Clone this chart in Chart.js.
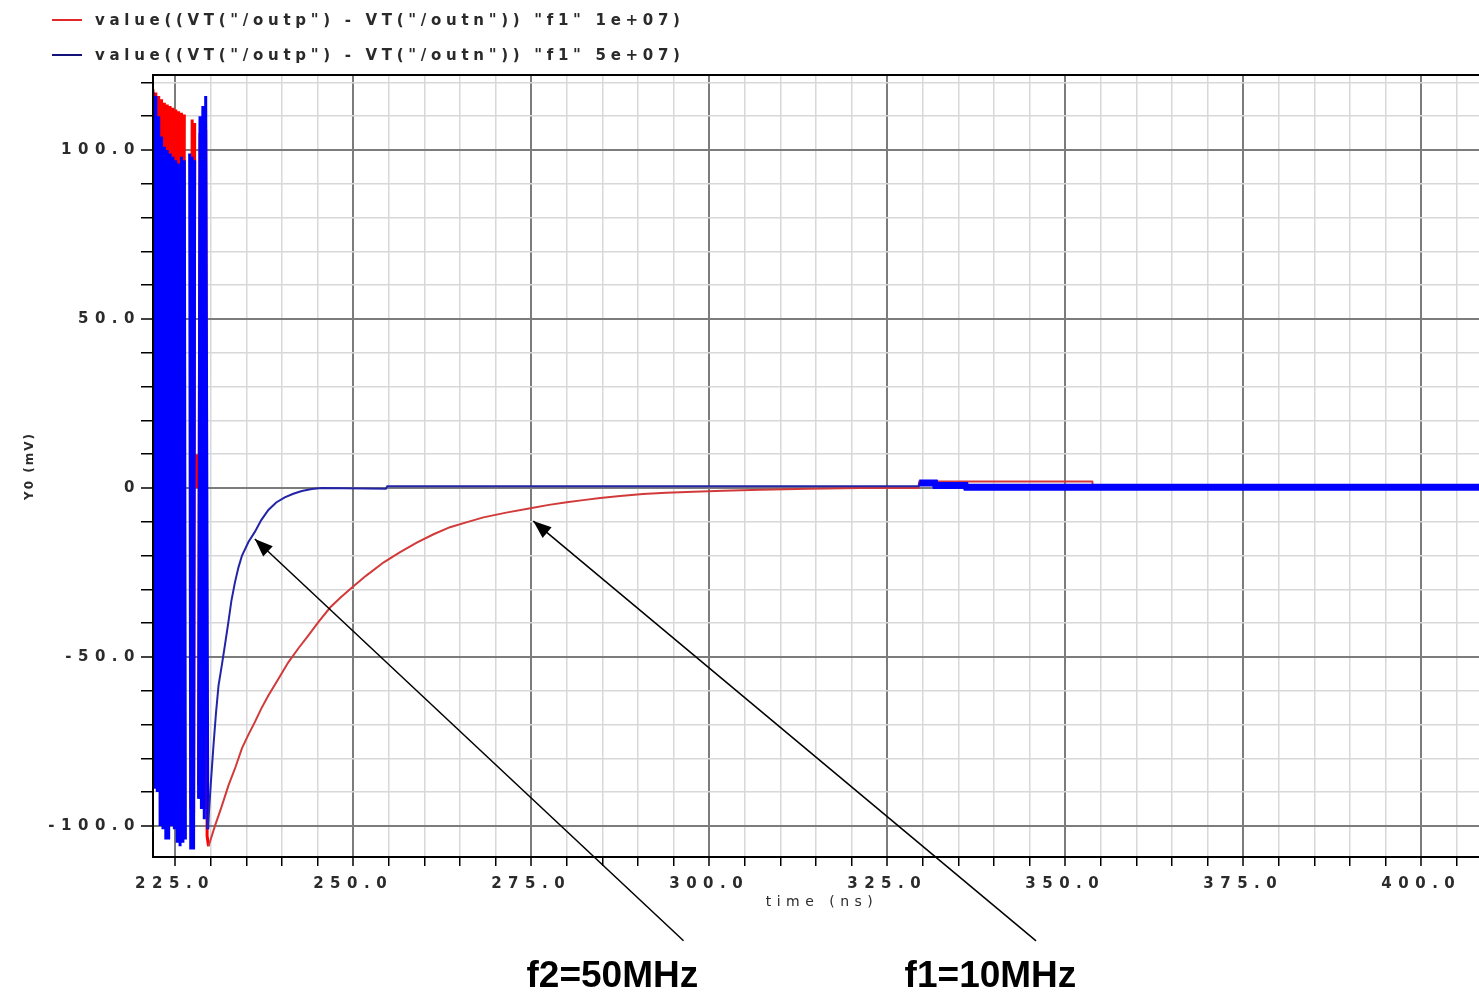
<!DOCTYPE html>
<html>
<head>
<meta charset="utf-8">
<title>VT(outp) - VT(outn) settling</title>
<script src="https://cdn.jsdelivr.net/npm/chart.js@4.4.0/dist/chart.umd.min.js"></script>
<style>
  html, body { margin: 0; padding: 0; background: #fff; }
  #wrap { position: relative; width: 1479px; height: 995px; }
  #legend {
    position: absolute; left: 52px; top: 2px;
    font: bold 15px "DejaVu Sans", sans-serif; letter-spacing: 4.7px; color: #2a2a2a;
  }
  #legend .item { height: 35px; display: flex; align-items: center; white-space: pre; }
  #legend .swatch { display: inline-block; width: 30px; height: 2px; margin-right: 13px; }
</style>
</head>
<body>
<div id="wrap">
  <canvas id="chart" width="1479" height="995"></canvas>
  <div id="legend"></div>
</div>
<script>
// === Series names ===
const f1Label = 'value((VT("/outp") - VT("/outn")) "f1" 1e+07)';
const f2Label = 'value((VT("/outp") - VT("/outn")) "f1" 5e+07)';

// === f1 = 10MHz (red), time in ns, value in mV ===
const f1Time = [
  221.9, 222.1, 222.3, 222.5, 222.7, 222.9, 223.1, 223.3, 223.5, 223.7, 223.9, 224.1,
  224.3, 224.5, 224.7, 224.9, 225.1, 225.3, 225.5, 225.7, 225.9, 226.1, 226.3,
  226.75, 227.2, 227.4, 227.6, 227.75, 227.9, 228.0, 228.05, 228.15,
  228.3, 228.5, 228.7, 228.9, 229.1, 229.3, 229.5,
  229.7, 230.6, 231.5, 232.5, 233.5, 234.4, 235.3, 236.2, 237.1, 238.1, 239.5, 240.9,
  242.3, 243.7, 245.2, 246.8, 248.2, 249.6, 251.8, 254.3, 256.6, 259.0, 261.3, 263.6,
  266.0, 268.3, 271.5, 274.9, 277.5, 280.0, 282.3, 284.7, 287.5, 290.7, 294.0, 297.8,
  302.0, 307.2, 314.0, 321.2, 329.4,
  329.5, 353.8, 353.9, 408.1
];
const f1Value = [
  118, -85, 117, -85, 116, -90, 115, -92, 114, -94, 113.5, -95,
  113, -92, 112.5, -94, 112, -96, 111.5, -95, 111, -96, 110.5,
  null, -95, 109, -96, 108, null, 10, 0, null,
  -88, 105, -92, 108, -95, 106, -103,
  -106, -100, -94.5, -88, -82.5, -77, -73, -69.3, -65.3, -61.4, -56.5, -51.6,
  -47.5, -43.7, -39.5, -35.3, -32.5, -29.9, -26, -22, -19, -16.1, -13.7, -11.6,
  -10.1, -8.7, -7.3, -6.0, -5.0, -4.2, -3.6, -3.0, -2.4, -1.8, -1.4, -1.1,
  -0.8, -0.5, -0.25, 0, 0,
  1.9, 1.9, 0.2, 0.2
];

// === f2 = 50MHz (blue) ===
const f2Time = [
  221.9, 222.1, 222.3, 222.5, 222.7, 222.9, 223.1, 223.3, 223.5, 223.7, 223.9, 224.1,
  224.3, 224.5, 224.7, 224.9, 225.1, 225.3, 225.5, 225.7, 225.9, 226.1, 226.3, 226.45,
  226.75, 227.05, 227.2, 227.4, 227.6, 227.75, 228.0,
  228.3, 228.5, 228.7, 228.9, 229.1, 229.3,
  229.6, 230.0, 230.4, 230.75, 231.1, 231.6, 232.0, 232.5, 232.9, 233.4, 233.9, 234.4,
  235.3, 236.2, 237.1, 238.1, 239.2, 240.4, 241.6, 242.8, 244.2, 245.6,
  254.6, 254.8, 329.4,
  329.5, 331.7, 331.8, 336.0, 336.1, 408.1
];
const f2Value = [
  117, -89, 116, -90, 110, -100, 104, -101, 101, -104, 100, -104,
  99, -100, 98, -101, 97, -105, 96, -106, 98, -105, 97, -104,
  null, 99, -107, 98, -107, 97, null,
  -92, 110, -95, 113, -98, 116,
  -101, -88, -76, -66.5, -58.5, -52, -46.5, -39.5, -33.5, -28, -23.5, -20,
  -16, -13, -9.5, -6.5, -4.3, -2.8, -1.7, -0.9, -0.3, 0,
  -0.2, 0.5, 0.5,
  1.5, 1.5, 0.7, 0.7, 0.2, 0.2
];

// === Axes ===
const xMajorTicks = [225, 250, 275, 300, 325, 350, 375, 400];
const yMajorTicks = [-100, -50, 0, 50, 100];
const xRange = [221.9, 408.1];
const yRange = [-109.2, 122.2];
const xTitle = "time (ns)";
const yTitle = "Y0 (mV)";

// === Arrows with notes ===
const notes = [
  { text: "f2=50MHz", tip: [236.2, -15.1], tail: [296.4, -134], at: [286.4, -147.6] },
  { text: "f1=10MHz", tip: [275.3, -9.8], tail: [345.9, -134], at: [339.5, -147.6] }
];

const toPoints = (xs, ys) => xs.map((x, i) => ({ x: x, y: ys[i] }));

const xTickValues = [];
for (let v = 225; v <= 405; v += 5) xTickValues.push(v);
const yTickValues = [];
for (let v = -100; v <= 120; v += 10) yTickValues.push(v);

// Legend (two rows like the simulator plot)
const legendEl = document.getElementById("legend");
[[f1Label, "#e02828"], [f2Label, "#12127a"]].forEach(([name, col]) => {
  const row = document.createElement("div");
  row.className = "item";
  row.innerHTML = `<span class="swatch" style="background:${col}"></span>`;
  row.appendChild(document.createTextNode(name));
  legendEl.appendChild(row);
});

// Top frame line, axis titles and the annotation arrows
const framePlugin = {
  id: "frameAndNotes",
  beforeDraw(chart) {
    chart.ctx.letterSpacing = "6.5px";
  },
  beforeDatasetsDraw(chart) {
    chart.ctx.letterSpacing = "0px";
  },
  afterDraw(chart) {
    const { ctx, chartArea, scales } = chart;
    ctx.save();
    ctx.letterSpacing = "0px";
    ctx.strokeStyle = "#000";
    ctx.lineWidth = 2;
    ctx.beginPath();
    ctx.moveTo(chartArea.left, chartArea.top);
    ctx.lineTo(chartArea.right, chartArea.top);
    ctx.stroke();

    // axis titles
    ctx.fillStyle = "#2b2b2b";
    ctx.textAlign = "center";
    ctx.textBaseline = "middle";
    ctx.font = '14px "DejaVu Sans", sans-serif';
    ctx.letterSpacing = "5.5px";
    ctx.fillText(xTitle, (chartArea.left + chartArea.right) / 2 + 6, scales.x.bottom - 93);
    ctx.save();
    ctx.translate(30, (chartArea.top + chartArea.bottom) / 2);
    ctx.rotate(-Math.PI / 2);
    ctx.font = 'bold 12px "DejaVu Sans", sans-serif';
    ctx.letterSpacing = "2px";
    ctx.fillText(yTitle, 0, 0);
    ctx.restore();
    ctx.letterSpacing = "0px";

    notes.forEach(n => {
      const tx = scales.x.getPixelForValue(n.tip[0]);
      const ty = scales.y.getPixelForValue(n.tip[1]);
      const sx = scales.x.getPixelForValue(n.tail[0]);
      const sy = scales.y.getPixelForValue(n.tail[1]);
      ctx.strokeStyle = "#000";
      ctx.lineWidth = 1.5;
      ctx.beginPath();
      ctx.moveTo(sx, sy);
      ctx.lineTo(tx, ty);
      ctx.stroke();
      const a = Math.atan2(ty - sy, tx - sx);
      const len = 18, half = 7;
      ctx.fillStyle = "#000";
      ctx.beginPath();
      ctx.moveTo(tx, ty);
      ctx.lineTo(tx - len * Math.cos(a) + half * Math.sin(a), ty - len * Math.sin(a) - half * Math.cos(a));
      ctx.lineTo(tx - len * Math.cos(a) - half * Math.sin(a), ty - len * Math.sin(a) + half * Math.cos(a));
      ctx.closePath();
      ctx.fill();

      ctx.font = 'bold 37px "Liberation Sans", Arial, sans-serif';
      ctx.textAlign = "center";
      ctx.textBaseline = "alphabetic";
      ctx.fillText(n.text, scales.x.getPixelForValue(n.at[0]), scales.y.getPixelForValue(n.at[1]));
    });
    ctx.restore();
  }
};

const tickFont = { family: "DejaVu Sans", size: 15, weight: "bold" };

new Chart(document.getElementById("chart").getContext("2d"), {
  type: "line",
  data: {
    datasets: [
      {
        label: f1Label,
        data: toPoints(f1Time, f1Value),
        borderColor: "#ff0000",
        borderWidth: 2,
        pointRadius: 0,
        spanGaps: false,
        order: 1,
        segment: {
          borderColor: c => c.p0.parsed.x >= 229.6 ? "#d23a3a" : undefined,
          borderWidth: c => c.p0.parsed.x < 229.6 ? 3 : undefined
        }
      },
      {
        label: f2Label,
        data: toPoints(f2Time, f2Value),
        borderColor: "#0000ff",
        borderWidth: 2,
        pointRadius: 0,
        spanGaps: false,
        order: 0,
        segment: {
          borderColor: c => (c.p0.parsed.x >= 229.5 && c.p0.parsed.x < 329.45) ? "#2424a6" : undefined,
          borderWidth: c => c.p0.parsed.x >= 329.45 ? 7 : (c.p0.parsed.x < 229.5 ? 3 : undefined)
        }
      }
    ]
  },
  options: {
    responsive: false,
    devicePixelRatio: 1,
    animation: false,
    events: [],
    layout: { padding: { top: 75, right: 0, bottom: 0, left: 0 } },
    plugins: {
      legend: { display: false },
      tooltip: { enabled: false }
    },
    scales: {
      x: {
        type: "linear",
        min: xRange[0],
        max: xRange[1],
        afterBuildTicks: s => { s.ticks = xTickValues.map(v => ({ value: v })); },
        afterFit: s => { s.height = 138; },
        ticks: {
          autoSkip: false,
          maxRotation: 0,
          padding: 9,
          color: "#2b2b2b",
          font: tickFont,
          callback: v => xMajorTicks.includes(v) ? v.toFixed(1) : ""
        },
        grid: {
          color: c => xMajorTicks.includes(c.tick && c.tick.value) ? "#7c7c7c" : "#d8d8d8",
          lineWidth: c => xMajorTicks.includes(c.tick && c.tick.value) ? 2 : 1.5,
          tickColor: "#000",
          tickLength: 9,
          tickWidth: 1.5
        },
        border: { display: true, color: "#000", width: 2, z: 1 },
        title: { display: false }
      },
      y: {
        type: "linear",
        min: yRange[0],
        max: yRange[1],
        afterBuildTicks: s => { s.ticks = yTickValues.map(v => ({ value: v })); },
        afterFit: s => { s.width = 153; },
        ticks: {
          autoSkip: false,
          padding: 0,
          color: "#2b2b2b",
          font: tickFont,
          callback: v => yMajorTicks.includes(v) ? (v === 0 ? "0" : v.toFixed(1)) : ""
        },
        grid: {
          color: c => yMajorTicks.includes(c.tick && c.tick.value) ? "#7c7c7c" : "#d8d8d8",
          lineWidth: c => yMajorTicks.includes(c.tick && c.tick.value) ? 2 : 1.5,
          tickColor: "#000",
          tickLength: 12,
          tickWidth: 1.5
        },
        border: { display: true, color: "#000", width: 2, z: 1 },
        title: { display: false }
      }
    }
  },
  plugins: [framePlugin]
});
</script>
</body>
</html>
